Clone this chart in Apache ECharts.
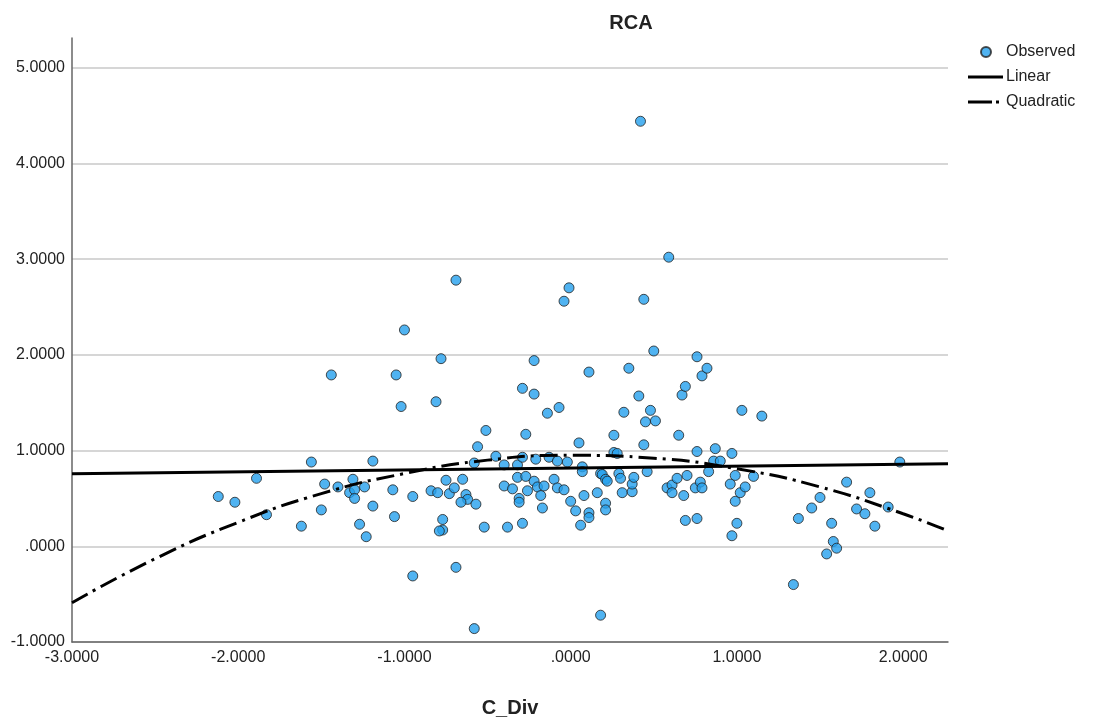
<!DOCTYPE html>
<html>
<head>
<meta charset="utf-8">
<title>RCA</title>
<script src="https://cdn.jsdelivr.net/npm/echarts@6/dist/echarts.min.js"></script>
<style>
  html, body { margin: 0; padding: 0; background: #fff; }
  #chart { width: 1096px; height: 724px; }
</style>
</head>
<body>
<div id="chart"></div>
<script>
// observed points (C_Div, RCA)
const obsX = [
  -2.12, -2.02, -1.89, -1.83, -1.62, -1.56, -1.50, -1.48, -1.44, -1.40, -1.33, -1.31, -1.30, -1.30, -1.27, -1.24, -1.23, -1.19, -1.19, -1.07, -1.06, -1.05, -1.02, -1.00,
  -0.95, -0.95, -0.84, -0.81, -0.80, -0.78, -0.77, -0.77, -0.79, -0.75, -0.73, -0.70, -0.69, -0.69, -0.65, -0.63, -0.62, -0.66, -0.58, -0.58, -0.57, -0.56, -0.52, -0.51, -0.45, -0.40,
  -0.40, -0.38, -0.35, -0.32, -0.32, -0.31, -0.31, -0.29, -0.29, -0.29, -0.27, -0.27, -0.26, -0.22, -0.22, -0.22, -0.21, -0.20, -0.18, -0.17, -0.16, -0.14, -0.13, -0.10, -0.08,
  -0.08, -0.07, -0.04, -0.04, -0.02, -0.01, 0.00, 0.03, 0.05, 0.06, 0.07, 0.07, 0.08, 0.11, 0.11, 0.11, 0.16, 0.18, 0.18, 0.19, 0.21, 0.21, 0.21, 0.22,
  0.26, 0.26, 0.28, 0.29, 0.30, 0.31, 0.32, 0.35, 0.37, 0.37, 0.38, 0.41, 0.42, 0.44, 0.44, 0.45, 0.46, 0.48, 0.50, 0.51, 0.58, 0.59, 0.61, 0.61, 0.64, 0.65, 0.67, 0.68,
  0.69, 0.69, 0.70, 0.75, 0.76, 0.76, 0.76, 0.78, 0.79, 0.79, 0.82, 0.83, 0.86, 0.87, 0.90, 0.96, 0.97, 0.97, 0.99, 0.99, 1.00, 1.02, 1.03, 1.05, 1.10, 1.15, 1.34, 1.37,
  1.45, 1.50, 1.54, 1.57, 1.58, 1.60, 1.66, 1.72, 1.77, 1.80, 1.83, 1.91, 1.98
];
const obsY = [
  0.52, 0.46, 0.71, 0.33, 0.21, 0.88, 0.38, 0.65, 1.79, 0.62, 0.56, 0.70, 0.59, 0.50, 0.23, 0.62, 0.10, 0.89, 0.42, 0.59, 0.31, 1.79, 1.46, 2.26,
  0.52, -0.31, 0.58, 1.51, 0.56, 1.96, 0.28, 0.17, 0.16, 0.69, 0.55, 0.61, 2.78, -0.22, 0.70, 0.54, 0.49, 0.46, -0.86, 0.87, 0.44, 1.04, 0.20, 1.21, 0.94, 0.85,
  0.63, 0.20, 0.60, 0.72, 0.85, 0.50, 0.46, 0.93, 1.65, 0.24, 1.17, 0.73, 0.58, 1.94, 1.59, 0.68, 0.91, 0.62, 0.53, 0.40, 0.63, 1.39, 0.93, 0.70, 0.89,
  0.61, 1.45, 2.56, 0.59, 0.88, 2.70, 0.47, 0.37, 1.08, 0.22, 0.83, 0.78, 0.53, 0.35, 0.30, 1.82, 0.56, -0.72, 0.76, 0.75, 0.70, 0.45, 0.38, 0.68,
  1.16, 0.98, 0.97, 0.76, 0.71, 0.56, 1.40, 1.86, 0.57, 0.65, 0.72, 1.57, 4.44, 2.58, 1.06, 1.30, 0.78, 1.42, 2.04, 1.31, 0.61, 3.02, 0.64, 0.56, 0.71, 1.16, 1.58, 0.53,
  1.67, 0.27, 0.74, 0.61, 1.98, 0.99, 0.29, 0.67, 1.78, 0.61, 1.86, 0.78, 0.89, 1.02, 0.89, 0.65, 0.97, 0.11, 0.74, 0.47, 0.24, 0.56, 1.42, 0.62, 0.73, 1.36, -0.40, 0.29,
  0.40, 0.51, -0.08, 0.24, 0.05, -0.02, 0.67, 0.39, 0.34, 0.56, 0.21, 0.41, 0.88
];

// fitted lines
const linearX = [-3.0, 2.27];
const linearY = [0.757, 0.862];
const quadX = [-3.0, -2.5, -2.0, -1.5, -1.0, -0.5, 0.0, 0.5, 1.0, 1.5, 2.0, 2.27];
const quadY = [-0.59, -0.13, 0.25, 0.55, 0.76, 0.90, 0.95, 0.92, 0.81, 0.62, 0.34, 0.16];

const seriesNames = ['Observed', 'Linear', 'Quadratic'];

const pairs = (xs, ys) => xs.map((x, i) => [x, ys[i]]);
// SPSS style: ".0000" instead of "0.0000"
const fmt = v => v.toFixed(4).replace(/^(-?)0\./, '$1.');

const font = '"Liberation Sans", Arial, sans-serif';
const chart = echarts.init(document.getElementById('chart'));

// legend icons, tiny corner specks keep the 36x10 box
const box = 'M0,0h0.01v0.01h-0.01z M35.99,9.99h0.01v0.01h-0.01z ';
const solidIcon = 'path://' + box + 'M0,3.5H35V6.5H0z';
const dashDotIcon = 'path://' + box + 'M0,3.5H24V6.5H0z M28,3.5H31V6.5H28z';

const option = {
    animation: false,
    backgroundColor: '#ffffff',
    title: {
        text: 'RCA',
        left: 626,
        top: 8,
        textAlign: 'center',
        textStyle: { fontFamily: font, fontSize: 20, fontWeight: 'bold', color: '#222' }
    },
    legend: {
        orient: 'vertical',
        left: 968,
        top: 44,
        padding: 0,
        itemGap: 9,
        itemWidth: 36,
        itemHeight: 10,
        data: [
            { name: seriesNames[0], icon: 'circle' },
            { name: seriesNames[1], icon: solidIcon },
            { name: seriesNames[2], icon: dashDotIcon }
        ],
        textStyle: { fontFamily: font, fontSize: 16, color: '#222', padding: [0, 0, 0, -3] }
    },
    grid: {
        left: 72,
        right: 148,
        top: 38,
        bottom: 82
    },
    xAxis: {
        type: 'value',
        min: -3,
        max: 2.27,
        interval: 1,
        name: 'C_Div',
        nameLocation: 'middle',
        nameGap: 56,
        nameTextStyle: { fontFamily: font, fontSize: 20, fontWeight: 'bold', color: '#222' },
        axisLine: { onZero: false, lineStyle: { color: '#666', width: 1.5 } },
        axisTick: { show: false },
        splitLine: { show: false },
        axisLabel: {
            formatter: fmt,
            showMaxLabel: false,
            fontFamily: font, fontSize: 16, color: '#222', margin: 8
        }
    },
    yAxis: {
        type: 'value',
        min: -1,
        max: 5.31,
        interval: 1,
        axisLine: { show: true, onZero: false, lineStyle: { color: '#666', width: 1.5 } },
        axisTick: { show: false },
        splitLine: {
            show: true,
            showMaxLine: false,
            lineStyle: { color: '#c8c8c8', width: 1.5 }
        },
        axisLabel: {
            formatter: fmt,
            showMaxLabel: false,
            padding: [7, 0, 0, 0],
            fontFamily: font, fontSize: 16, color: '#222', margin: 7
        }
    },
    series: [
        {
            name: 'Observed',
            type: 'scatter',
            symbol: 'circle',
            symbolSize: 10,
            itemStyle: { color: '#24a0ee', borderColor: '#222', borderWidth: 1 },
            data: pairs(obsX, obsY),
            z: 3
        },
        {
            name: 'Linear',
            type: 'line',
            symbol: 'none',
            lineStyle: { color: '#000', width: 3 },
            itemStyle: { color: '#000' },
            data: pairs(linearX, linearY),
            z: 4
        },
        {
            name: 'Quadratic',
            type: 'line',
            symbol: 'none',
            smooth: true,
            lineStyle: { color: '#000', width: 3, type: [18, 6, 3, 6] },
            itemStyle: { color: '#000' },
            data: pairs(quadX, quadY),
            z: 4
        }
    ]
};

chart.setOption(option);
</script>
</body>
</html>
